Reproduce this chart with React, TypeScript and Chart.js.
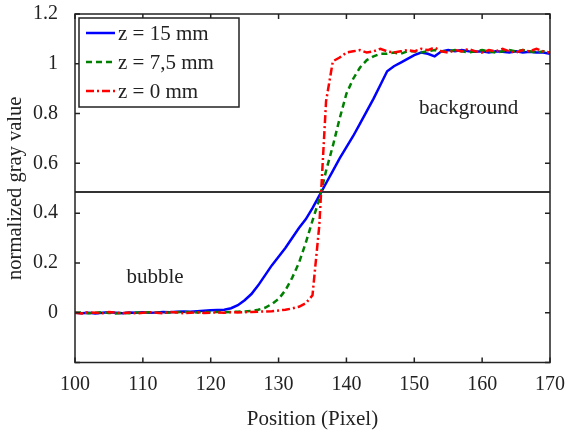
import React, { useEffect, useRef } from 'react';
import { Chart, registerables } from 'chart.js';
Chart.register(...registerables);

const positions = [
  100, 101, 102, 103, 104, 105, 106, 107, 108, 109,
  110, 111, 112, 113, 114, 115, 116, 117, 118, 119,
  120, 121, 122, 123, 124, 125, 126, 127, 128, 129,
  130, 131, 132, 133, 134, 135, 136, 137, 138, 139,
  140, 141, 142, 143, 144, 145, 146, 147, 148, 149,
  150, 151, 152, 153, 154, 155, 156, 157, 158, 159,
  160, 161, 162, 163, 164, 165, 166, 167, 168, 169, 170,
];

const z15 = [
  0.0, -0.002, 0.0, -0.003, 0.0, 0.002, 0.0, -0.002, 0.001, 0.0,
  0.002, 0.0, 0.001, 0.003, 0.002, 0.004, 0.005, 0.004, 0.006, 0.008,
  0.01, 0.011, 0.012, 0.018, 0.03, 0.05, 0.075, 0.11, 0.15, 0.19,
  0.225, 0.26, 0.3, 0.34, 0.375, 0.42, 0.47, 0.52, 0.57, 0.62,
  0.665, 0.71, 0.76, 0.81, 0.86, 0.915, 0.97, 0.99, 1.005, 1.02,
  1.035, 1.045, 1.04, 1.03, 1.05, 1.055, 1.05, 1.055, 1.05, 1.048,
  1.05, 1.045, 1.05, 1.048, 1.045, 1.05, 1.045, 1.048, 1.045, 1.045, 1.04,
];

const z75 = [
  0.0, 0.001, -0.002, 0.0, 0.002, -0.001, -0.003, 0.0, -0.002, 0.001,
  0.0, 0.002, 0.0, -0.001, 0.001, 0.002, 0.003, 0.002, 0.001, 0.003,
  0.002, 0.003, 0.002, 0.003, 0.004, 0.005, 0.007, 0.012, 0.02, 0.035,
  0.055, 0.09, 0.14, 0.2, 0.28, 0.37, 0.455, 0.57, 0.67, 0.78,
  0.88, 0.94, 0.985, 1.015, 1.03, 1.04, 1.04, 1.045, 1.04, 1.05,
  1.05, 1.045, 1.05, 1.055, 1.05, 1.05, 1.055, 1.05, 1.045, 1.05,
  1.055, 1.05, 1.045, 1.05, 1.055, 1.05, 1.055, 1.05, 1.045, 1.05, 1.045,
];

const z0 = [
  0.0, -0.003, 0.002, 0.0, -0.002, 0.003, 0.0, -0.002, 0.001, -0.003,
  0.0, 0.002, 0.0, -0.002, 0.003, 0.001, -0.002, 0.0, 0.002, -0.001,
  0.0, 0.001, 0.0, 0.002, 0.001, 0.002, 0.003, 0.004, 0.005, 0.006,
  0.009, 0.012, 0.017, 0.024, 0.038, 0.07, 0.35, 0.85, 1.01, 1.025,
  1.045, 1.05, 1.055, 1.045, 1.05, 1.06, 1.05, 1.045, 1.05, 1.055,
  1.05, 1.06, 1.055, 1.065, 1.05, 1.045, 1.055, 1.05, 1.06, 1.05,
  1.045, 1.055, 1.05, 1.06, 1.05, 1.045, 1.055, 1.05, 1.06, 1.05, 1.045,
];

const seriesLabels = ['z = 15 mm', 'z = 7,5 mm', 'z = 0 mm'];
const thresholdX = [100, 170];
const thresholdY = [0.485, 0.485];
const xTicks = [100, 110, 120, 130, 140, 150, 160, 170];
const yTicks = [-0.2, 0, 0.2, 0.4, 0.6, 0.8, 1.0, 1.2];
const noteTexts = ['background', 'bubble'];
const noteX = [158, 111.8];
const noteY = [0.82, 0.14];

const FONT = "'Liberation Serif', 'Times New Roman', serif";

const framePlugin = {
  id: 'frameTicks',
  afterDatasetsDraw(chart: any) {
    const { ctx, chartArea: a, scales } = chart;
    const xs = scales.x;
    const ys = scales.y;
    ctx.save();
    ctx.strokeStyle = '#222';
    ctx.lineWidth = 1.5;
    ctx.beginPath();
    const tl = 5;
    xTicks.forEach((v) => {
      const px = xs.getPixelForValue(v);
      ctx.moveTo(px, a.bottom);
      ctx.lineTo(px, a.bottom - tl);
      ctx.moveTo(px, a.top);
      ctx.lineTo(px, a.top + tl);
    });
    yTicks.forEach((v) => {
      const py = ys.getPixelForValue(v);
      ctx.moveTo(a.left, py);
      ctx.lineTo(a.left + tl, py);
      ctx.moveTo(a.right, py);
      ctx.lineTo(a.right - tl, py);
    });
    ctx.stroke();
    ctx.strokeRect(a.left, a.top, a.right - a.left, a.bottom - a.top);

    // annotations
    ctx.fillStyle = '#222';
    ctx.font = `21px ${FONT}`;
    ctx.textAlign = 'center';
    ctx.textBaseline = 'middle';
    noteTexts.forEach((t, i) => {
      ctx.fillText(t, xs.getPixelForValue(noteX[i]), ys.getPixelForValue(noteY[i]));
    });

    // legend
    const lx = a.left + 4;
    const ly = a.top + 4;
    const lw = 160;
    const lh = 89;
    ctx.fillStyle = '#fff';
    ctx.fillRect(lx, ly, lw, lh);
    ctx.lineWidth = 1.5;
    ctx.strokeStyle = '#222';
    ctx.setLineDash([]);
    ctx.strokeRect(lx, ly, lw, lh);
    [0, 1, 2].forEach((di, row) => {
      const ds = chart.data.datasets[di];
      const ry = ly + 15 + row * 29;
      ctx.save();
      ctx.strokeStyle = ds.borderColor;
      ctx.lineWidth = ds.borderWidth;
      ctx.setLineDash(ds.borderDash || []);
      ctx.beginPath();
      ctx.moveTo(lx + 7, ry);
      ctx.lineTo(lx + 36, ry);
      ctx.stroke();
      ctx.restore();
      ctx.fillStyle = '#222';
      ctx.font = `21px ${FONT}`;
      ctx.textAlign = 'left';
      ctx.textBaseline = 'middle';
      ctx.fillText(ds.label, lx + 39, ry + 1);
    });
    ctx.restore();
  },
};

function toPoints(xsArr: number[], ysArr: number[]) {
  return xsArr.map((x, i) => ({ x, y: ysArr[i] }));
}

function zeroPad(s: any) {
  s.paddingLeft = 0;
  s.paddingRight = 0;
  s.paddingTop = 0;
  s.paddingBottom = 0;
}

export default function App() {
  const ref = useRef<HTMLCanvasElement | null>(null);
  useEffect(() => {
    if (!ref.current) return;
    const chart = new Chart(ref.current, {
      type: 'line',
      data: {
        datasets: [
          {
            label: seriesLabels[0],
            data: toPoints(positions, z15),
            borderColor: '#0000ff',
            borderWidth: 2.5,
            pointRadius: 0,
            tension: 0,
            order: 2,
          },
          {
            label: seriesLabels[1],
            data: toPoints(positions, z75),
            borderColor: '#008000',
            borderWidth: 2.5,
            borderDash: [6, 4],
            pointRadius: 0,
            tension: 0,
            order: 1,
          },
          {
            label: seriesLabels[2],
            data: toPoints(positions, z0),
            borderColor: '#ff0000',
            borderWidth: 2.5,
            borderDash: [8, 3, 2, 3],
            pointRadius: 0,
            tension: 0,
            order: 0,
          },
          {
            label: 'threshold',
            data: toPoints(thresholdX, thresholdY),
            borderColor: '#333',
            borderWidth: 2,
            pointRadius: 0,
            order: 3,
          },
        ],
      },
      options: {
        animation: false,
        responsive: true,
        maintainAspectRatio: false,
        layout: { padding: { top: 14, right: 15, left: 0, bottom: 0 } },
        plugins: { legend: { display: false }, tooltip: { enabled: false } },
        scales: {
          x: {
            type: 'linear',
            min: 100,
            max: 170,
            grid: { display: false },
            border: { display: false },
            afterBuildTicks: (s: any) => {
              s.ticks = xTicks.map((v) => ({ value: v }));
            },
            afterFit: (s: any) => {
              s.height = 72.5;
              zeroPad(s);
            },
            ticks: {
              color: '#222',
              padding: 2.5,
              maxRotation: 0,
              font: { family: FONT, size: 20 },
              callback: (v: any) => String(v),
            },
            title: {
              display: true,
              text: 'Position (Pixel)',
              color: '#222',
              font: { family: FONT, size: 21 },
              padding: { top: 0, bottom: 2.5 },
            },
          },
          y: {
            type: 'linear',
            min: -0.2,
            max: 1.2,
            grid: { display: false },
            border: { display: false },
            afterBuildTicks: (s: any) => {
              s.ticks = yTicks.map((v) => ({ value: v }));
            },
            afterFit: (s: any) => {
              s.width = 75;
              zeroPad(s);
            },
            ticks: {
              color: '#222',
              padding: 9,
              font: { family: FONT, size: 20 },
              callback: (v: any) => {
                const n = Number(Number(v).toFixed(1));
                if (n < 0) return '';
                return String(n);
              },
            },
            title: {
              display: true,
              text: 'normalized gray value',
              color: '#222',
              font: { family: FONT, size: 20.5 },
              padding: { top: 3, bottom: 0 },
            },
          },
        },
      },
      plugins: [framePlugin],
    });
    return () => chart.destroy();
  }, []);
  return (
    <div style={{ position: 'fixed', left: 0, top: 0, width: 565, height: 435, background: '#fff' }}>
      <canvas ref={ref} />
    </div>
  );
}
